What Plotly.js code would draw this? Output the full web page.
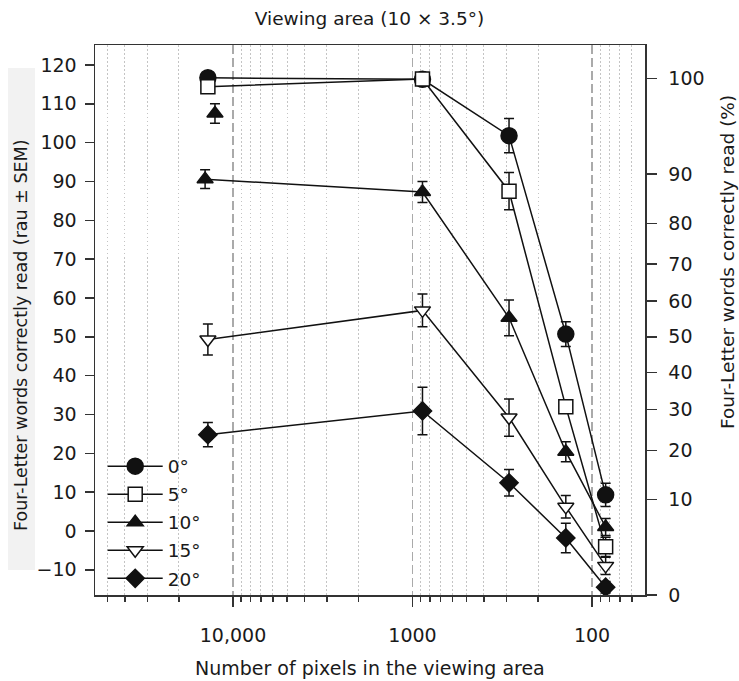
<!DOCTYPE html>
<html>
<head>
<meta charset="utf-8">
<script src="https://cdn.plot.ly/plotly-3.0.1.min.js"></script>
<style>
  html, body { margin: 0; padding: 0; background: #fff; }
  #chart { width: 739px; height: 681px; }
</style>
</head>
<body>
<div id="chart"></div>
<script>
// ---- Data ----
var pixelsMain = [13800, 880, 290, 140, 84];
var pixels10 = [14300, 880, 290, 140, 84];
var pixels10Extra = [12600];

var seriesNames = ['0°', '5°', '10°', '15°', '20°'];

var rau0 = [116.7, 116.3, 101.8, 50.7, 9.3];
var sem0 = [0.8, 0.8, 4.4, 3.2, 3.0];
var rau5 = [114.4, 116.4, 87.5, 32.0, -4.1];
var sem5 = [0.8, 0.8, 4.8, 1.2, 2.5];
var rau10 = [90.6, 87.3, 54.9, 20.4, 1.0];
var sem10 = [2.4, 2.7, 4.6, 2.6, 2.2];
var rau10Extra = [107.5];
var sem10Extra = [2.5];
var rau15 = [49.3, 56.8, 29.2, 6.2, -9.0];
var sem15 = [4.0, 4.2, 4.8, 2.9, 2.2];
var rau20 = [24.8, 30.9, 12.4, -1.8, -14.5];
var sem20 = [3.1, 6.1, 3.4, 3.8, 1.5];

// Tick labels
var xMajorVals = [10000, 1000, 100];
var xMajorText = ['10,000', '1000', '100'];
var xMinorVals = [60, 70, 80, 90, 200, 300, 400, 500, 600, 700, 800, 900,
                  2000, 3000, 4000, 5000, 6000, 7000, 8000, 9000,
                  20000, 30000, 40000, 50000];
var yLeftVals = [-10, 0, 10, 20, 30, 40, 50, 60, 70, 80, 90, 100, 110, 120];
var pctLabels = [0, 10, 20, 30, 40, 50, 60, 70, 80, 90, 100];
var nItems = 50; // rationalized arcsine transform, N items

// percent -> rau (Studebaker) for the right-hand axis ticks
function pctToRau(p) {
  var x = p / 100 * nItems;
  var th = Math.asin(Math.sqrt(x / (nItems + 1))) + Math.asin(Math.sqrt((x + 1) / (nItems + 1)));
  return 146 / Math.PI * th - 23;
}
var yRightVals = pctLabels.map(pctToRau);
var yRightText = pctLabels.map(String);

// ---- Traces ----
var black = '#111';
function mk(name, x, y, e, symbol, size, filled, group, showleg) {
  return {
    type: 'scatter', mode: 'lines+markers', name: name,
    x: x, y: y,
    legendgroup: group, showlegend: showleg,
    line: { color: black, width: 1.5 },
    marker: { symbol: symbol, size: size, color: filled ? black : '#fff',
              line: { color: black, width: 1.5 } },
    error_y: { type: 'data', array: e, visible: true, color: black, thickness: 1.5, width: 5 },
    hoverinfo: 'skip'
  };
}

var data = [
  mk(seriesNames[0], pixelsMain, rau0, sem0, 'circle', 16, true, 'g0', true),
  mk(seriesNames[1], pixelsMain, rau5, sem5, 'square', 14, false, 'g1', true),
  mk(seriesNames[2], pixels10, rau10, sem10, 'triangle-up', 14, true, 'g2', true),
  mk(seriesNames[2], pixels10Extra, rau10Extra, sem10Extra, 'triangle-up', 14, true, 'g2', false),
  mk(seriesNames[3], pixelsMain, rau15, sem15, 'triangle-down', 14, false, 'g3', true),
  mk(seriesNames[4], pixelsMain, rau20, sem20, 'diamond', 14, true, 'g4', true),
  { type: 'scatter', x: [], y: [], yaxis: 'y2', showlegend: false, hoverinfo: 'skip' }
];
data[3].mode = 'markers';

var FONT = 'DejaVu Sans, Liberation Sans, Arial, sans-serif';
var TXT = '#1a1a1a';
var yRange = [-16.5, 125.15];
var xRange = [Math.log10(58700), Math.log10(50.7)];

var layout = {
  width: 739, height: 681,
  margin: { l: 95, r: 94, t: 45, b: 86, pad: 0 },
  paper_bgcolor: '#fff', plot_bgcolor: '#fff',
  font: { family: FONT, size: 18, color: TXT },
  showlegend: true,
  title: { text: 'Viewing area (10 × 3.5°)', x: 0.5, xanchor: 'center',
           y: 1 - 19 / 681, yref: 'container', yanchor: 'middle',
           font: { family: FONT, size: 18.5, color: TXT } },
  xaxis: {
    type: 'log', range: xRange, autorange: false,
    tickmode: 'array', tickvals: xMajorVals, ticktext: xMajorText,
    ticks: 'outside', ticklen: 10, tickwidth: 1.5, tickcolor: '#333',
    ticklabelstandoff: 13,
    showline: true, linecolor: '#333', linewidth: 1.5, mirror: true,
    showgrid: true, gridcolor: '#aaaaaa', gridwidth: 1.5, griddash: '9px,4px',
    zeroline: false,
    tickfont: { family: FONT, size: 19, color: TXT },
    minor: { tickmode: 'array', tickvals: xMinorVals, ticks: 'outside', ticklen: 5,
             tickwidth: 1.5, tickcolor: '#333',
             showgrid: true, gridcolor: '#c4c4c4', gridwidth: 1, griddash: '1.5px,2.5px' }
  },
  yaxis: {
    range: yRange, autorange: false,
    tickmode: 'array', tickvals: yLeftVals,
    ticks: 'outside', ticklen: 9, tickwidth: 1.5, tickcolor: '#333',
    ticklabelstandoff: 4,
    showline: true, linecolor: '#333', linewidth: 1.5,
    showgrid: false, zeroline: false,
    tickfont: { family: FONT, size: 19, color: TXT }
  },
  yaxis2: {
    overlaying: 'y', side: 'right', anchor: 'x',
    range: yRange, autorange: false,
    tickmode: 'array', tickvals: yRightVals, ticktext: yRightText,
    ticks: 'outside', ticklen: 10, tickwidth: 1.5, tickcolor: '#333',
    ticklabelstandoff: 8,
    showline: true, linecolor: '#333', linewidth: 1.5,
    showgrid: false, zeroline: false,
    tickfont: { family: FONT, size: 19, color: TXT }
  },
  legend: {
    x: 0.014, xanchor: 'left', y: 0.268, yanchor: 'top',
    bgcolor: 'rgba(0,0,0,0)', borderwidth: 0,
    traceorder: 'grouped', tracegroupgap: 1, itemwidth: 55,
    font: { family: FONT, size: 18.5, color: TXT }
  },
  shapes: [
    { type: 'rect', xref: 'paper', yref: 'paper', layer: 'below',
      x0: (8 - 95) / 550, x1: (35 - 95) / 550,
      y0: (595 - 570) / 550, y1: (595 - 68) / 550,
      fillcolor: '#f2f2f2', line: { width: 0 } }
  ],
  annotations: [
    { text: 'Four-Letter words correctly read (rau ± SEM)', textangle: -90,
      xref: 'paper', yref: 'paper', x: (21 - 95) / 550, y: (595 - 335) / 550,
      xanchor: 'center', yanchor: 'middle', showarrow: false,
      font: { family: FONT, size: 17.5, color: TXT } },
    { text: 'Four-Letter words correctly read (%)', textangle: -90,
      xref: 'paper', yref: 'paper', x: (727 - 95) / 550, y: (595 - 262) / 550,
      xanchor: 'center', yanchor: 'middle', showarrow: false,
      font: { family: FONT, size: 18.5, color: TXT } },
    { text: 'Number of pixels in the viewing area',
      xref: 'paper', yref: 'paper', x: 0.5, y: (595 - 668) / 550,
      xanchor: 'center', yanchor: 'middle', showarrow: false,
      font: { family: FONT, size: 19, color: TXT } }
  ]
};

Plotly.newPlot('chart', data, layout, { staticPlot: true, displayModeBar: false });
</script>
</body>
</html>
